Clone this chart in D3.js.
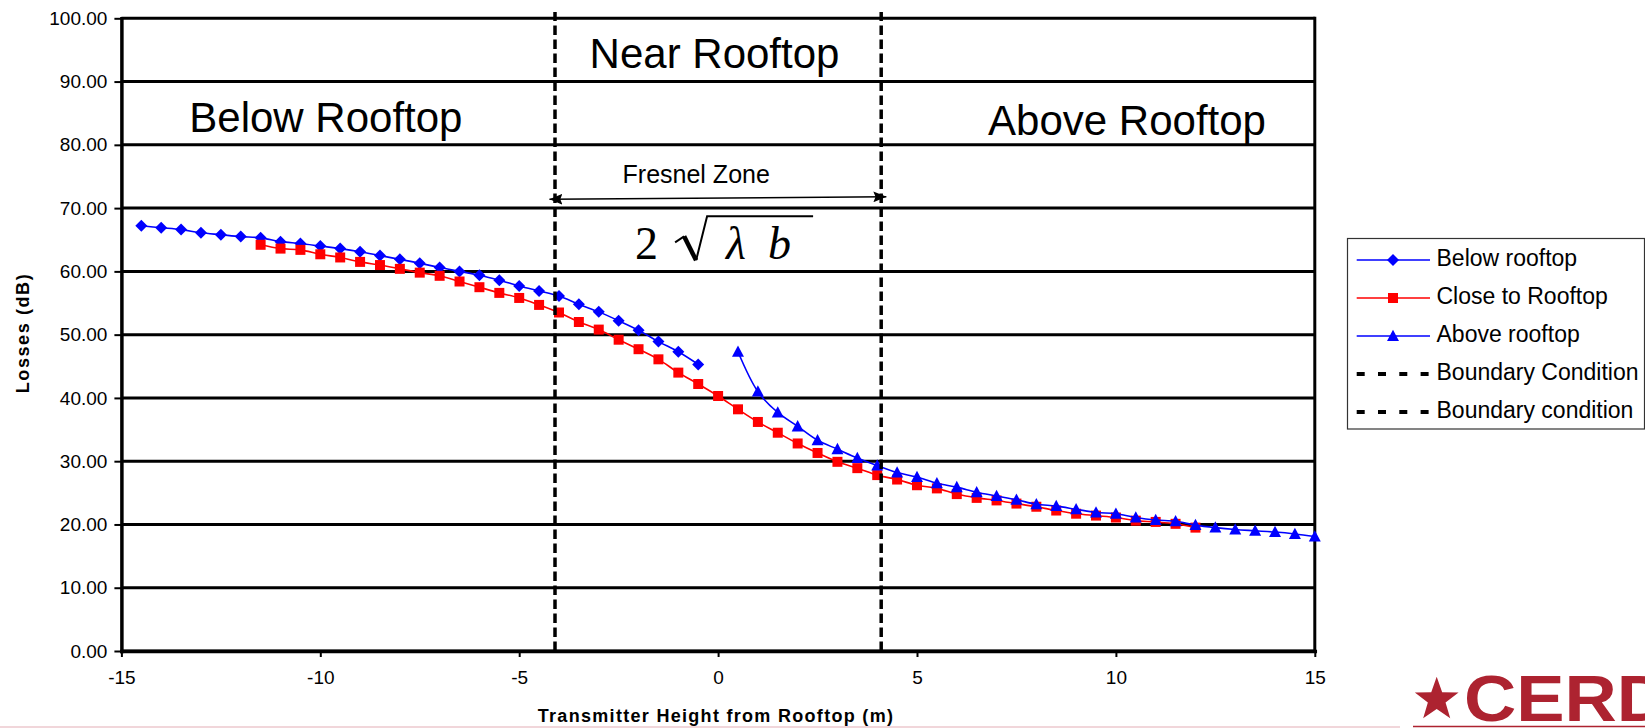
<!DOCTYPE html>
<html>
<head>
<meta charset="utf-8">
<script src="https://cdn.jsdelivr.net/npm/d3@7"></script>
<style>
  body { margin: 0; background: #fff; }
  svg { display: block; font-family: "Liberation Sans", Arial, sans-serif; }
</style>
</head>
<body>
<svg id="chart" width="1645" height="728"></svg>
<script>
// Transmitter height from rooftop (m) and path losses (dB) per series
const belowHeights = [-14.5, -14, -13.5, -13, -12.5, -12, -11.5, -11, -10.5, -10, -9.5, -9, -8.5, -8,
  -7.5, -7, -6.5, -6, -5.5, -5, -4.5, -4, -3.5, -3, -2.5, -2, -1.5, -1, -0.5];
const belowLoss = [67.2, 66.9, 66.6, 66.1, 65.8, 65.5, 65.3, 64.7, 64.4, 64.0, 63.6, 63.1, 62.5, 61.9,
  61.3, 60.6, 60.0, 59.4, 58.6, 57.7, 56.9, 56.1, 54.8, 53.6, 52.2, 50.7, 48.9, 47.3, 45.3];

const closeHeights = [-11.5, -11, -10.5, -10, -9.5, -9, -8.5, -8, -7.5, -7, -6.5, -6, -5.5, -5, -4.5, -4,
  -3.5, -3, -2.5, -2, -1.5, -1, -0.5, 0, 0.5, 1, 1.5, 2, 2.5, 3, 3.5, 4, 4.5, 5, 5.5, 6, 6.5, 7, 7.5, 8,
  8.5, 9, 9.5, 10, 10.5, 11, 11.5, 12];
const closeLoss = [64.2, 63.6, 63.4, 62.7, 62.2, 61.5, 61.0, 60.4, 59.8, 59.3, 58.4, 57.5, 56.6, 55.8, 54.7, 53.5,
  52.0, 50.8, 49.2, 47.7, 46.1, 44.0, 42.2, 40.3, 38.2, 36.2, 34.5, 32.8, 31.3, 29.9, 28.9, 27.8, 27.1, 26.2, 25.7, 24.8,
  24.2, 23.8, 23.3, 22.8, 22.2, 21.7, 21.4, 21.1, 20.6, 20.4, 20.1, 19.5];

const aboveHeights = [0.5, 1, 1.5, 2, 2.5, 3, 3.5, 4, 4.5, 5, 5.5, 6, 6.5, 7, 7.5, 8, 8.5, 9, 9.5, 10,
  10.5, 11, 11.5, 12, 12.5, 13, 13.5, 14, 14.5, 15];
const aboveLoss = [47.3, 41.0, 37.7, 35.5, 33.3, 31.9, 30.5, 29.3, 28.2, 27.5, 26.5, 25.9, 25.1, 24.5, 23.9, 23.2,
  22.9, 22.4, 21.9, 21.7, 21.1, 20.7, 20.5, 19.9, 19.5, 19.2, 19.0, 18.8, 18.5, 18.1];

// Fresnel zone boundaries (m) drawn as vertical dashed lines over the loss range
const boundaryHeights = [-4.1, 4.1];
const boundaryLoss = [0, 101];

const seriesNames = ["Below rooftop", "Close to Rooftop", "Above rooftop", "Boundary Condition", "Boundary condition"];
const xTicks = [-15, -10, -5, 0, 5, 10, 15];
const yTicks = [0, 10, 20, 30, 40, 50, 60, 70, 80, 90, 100];

const BLUE = "#0000ff", RED = "#ff0000";
const SERIF = "'Liberation Serif', 'Times New Roman', serif";
const svg = d3.select("#chart");

const x = d3.scaleLinear().domain([-15, 15]).range([121.4, 1314.8]);
const y = d3.scaleLinear().domain([0, 100]).range([651, 18.3]);

// horizontal gridlines
svg.append("g").selectAll("line").data(yTicks).join("line")
  .attr("x1", x(-15)).attr("x2", x(15))
  .attr("y1", d => y(d)).attr("y2", d => y(d))
  .attr("stroke", "#000").attr("stroke-width", 3);

// right frame edge
svg.append("line")
  .attr("x1", x(15)).attr("x2", x(15)).attr("y1", y(0) + 1.5).attr("y2", y(100) - 1.5)
  .attr("stroke", "#000").attr("stroke-width", 3);

// axes
const yAxis = svg.append("g").attr("transform", `translate(${x(-15)},0)`)
  .call(d3.axisLeft(y).tickValues(yTicks).tickFormat(d3.format(".2f"))
    .tickSize(7).tickSizeOuter(0).tickPadding(7));
const xAxis = svg.append("g").attr("transform", `translate(0,${y(0)})`)
  .call(d3.axisBottom(x).tickValues(xTicks).tickFormat(d => String(d))
    .tickSize(6).tickSizeOuter(0).tickPadding(14));
[yAxis, xAxis].forEach(g => {
  g.attr("font-family", null).attr("font-size", null);
  g.select(".domain").attr("stroke", "#000").attr("stroke-width", 3.5).attr("stroke-linecap", "square");
  g.selectAll(".tick line").attr("stroke", "#000").attr("stroke-width", 2);
  g.selectAll(".tick text").attr("font-size", 19).attr("fill", "#000");
});

// axis titles
svg.append("text")
  .attr("transform", `translate(29,333) rotate(-90)`)
  .attr("text-anchor", "middle").attr("font-size", 18).attr("font-weight", "bold")
  .attr("letter-spacing", "1.6px").text("Losses (dB)");
svg.append("text")
  .attr("x", 716).attr("y", 722)
  .attr("text-anchor", "middle").attr("font-size", 18).attr("font-weight", "bold")
  .attr("letter-spacing", "1.3px").text("Transmitter Height from Rooftop (m)");

// region annotations
const regionLabels = [
  { text: "Below Rooftop", h: -9.86, v: 82.1 },
  { text: "Near Rooftop", h: -0.09, v: 92.1 },
  { text: "Above Rooftop", h: 10.28, v: 81.55 }
];
svg.append("g").selectAll("text").data(regionLabels).join("text")
  .attr("x", d => x(d.h)).attr("y", d => y(d.v))
  .attr("text-anchor", "middle").attr("font-size", 42).attr("fill", "#000")
  .text(d => d.text);

// Fresnel zone annotation: label, double arrow and formula
svg.append("text")
  .attr("x", x(-0.55)).attr("y", y(73.92))
  .attr("text-anchor", "middle").attr("font-size", 25).text("Fresnel Zone");

const defs = svg.append("defs");
["arrowEnd", "arrowStart"].forEach((id, i) => {
  defs.append("marker").attr("id", id)
    .attr("viewBox", "0 0 12 10").attr("refX", 12).attr("refY", 5)
    .attr("markerWidth", 13).attr("markerHeight", 11).attr("markerUnits", "userSpaceOnUse")
    .attr("orient", i === 0 ? "auto" : "auto-start-reverse")
    .append("path").attr("d", "M0,0L12,5L0,10L2,5Z").attr("fill", "#000");
});
svg.append("line")
  .attr("x1", x(-4.24)).attr("y1", y(71.39))
  .attr("x2", x(4.23)).attr("y2", y(71.8))
  .attr("stroke", "#000").attr("stroke-width", 1.5)
  .attr("marker-start", "url(#arrowStart)").attr("marker-end", "url(#arrowEnd)");

const fx = x(0), fy = y(61.9);
const formula = svg.append("g").attr("transform", `translate(${fx},${fy})`);
formula.append("text").attr("x", -83).attr("y", 0)
  .style("font-family", SERIF).attr("font-size", 46).text("2");
formula.append("path")
  .attr("d", "M-43,-17L-34,-23")
  .attr("fill", "none").attr("stroke", "#000").attr("stroke-width", 2);
formula.append("path")
  .attr("d", "M-34,-23L-22,1")
  .attr("fill", "none").attr("stroke", "#000").attr("stroke-width", 4.5);
formula.append("path")
  .attr("d", "M-22,1L-11,-43H95")
  .attr("fill", "none").attr("stroke", "#000").attr("stroke-width", 2);
formula.append("text").attr("x", 8).attr("y", 0)
  .style("font-family", SERIF).attr("font-style", "italic")
  .attr("font-size", 46).text("λ");
formula.append("text").attr("x", 50).attr("y", 0)
  .style("font-family", SERIF).attr("font-style", "italic")
  .attr("font-size", 46).text("b");

// marker shapes
const DIAMOND = "M0,-6L6,0L0,6L-6,0Z";
const SQUARE = "M-5,-5H5V5H-5Z";
const TRIANGLE = "M0,-6.3L6,5L-6,5Z";

const line = d3.line().x(d => x(d[0])).y(d => y(d[1])).curve(d3.curveCatmullRom.alpha(0.5));

const series = [
  { hs: belowHeights, vs: belowLoss, color: BLUE, shape: DIAMOND },
  { hs: closeHeights, vs: closeLoss, color: RED, shape: SQUARE },
  { hs: aboveHeights, vs: aboveLoss, color: BLUE, shape: TRIANGLE }
];
series.forEach(s => {
  const pts = s.hs.map((h, i) => [h, s.vs[i]]);
  const g = svg.append("g");
  g.append("path").attr("d", line(pts)).attr("fill", "none")
    .attr("stroke", s.color).attr("stroke-width", 1.6);
  g.selectAll("path.m").data(pts).join("path").attr("class", "m")
    .attr("d", s.shape).attr("fill", s.color)
    .attr("transform", d => `translate(${x(d[0])},${y(d[1])})`);
});

// boundary lines
svg.append("g").selectAll("line").data(boundaryHeights).join("line")
  .attr("x1", d => x(d)).attr("x2", d => x(d))
  .attr("y1", y(boundaryLoss[0])).attr("y2", y(boundaryLoss[1]))
  .attr("stroke", "#000").attr("stroke-width", 3.5).attr("stroke-dasharray", "9.5,4.5");

// legend
const legend = svg.append("g");
legend.append("rect").attr("x", 1347.5).attr("y", 238.5).attr("width", 297).attr("height", 190.5)
  .attr("fill", "#fff").attr("stroke", "#333").attr("stroke-width", 1.2);
const legendStyle = [
  { color: BLUE, shape: DIAMOND, dash: null },
  { color: RED, shape: SQUARE, dash: null },
  { color: BLUE, shape: TRIANGLE, dash: null },
  { color: "#000", shape: null, dash: "8,13.3" },
  { color: "#000", shape: null, dash: "8,13.3" }
];
seriesNames.forEach((name, i) => {
  const ry = 260 + i * 38;
  const st = legendStyle[i];
  const row = legend.append("g");
  row.append("line").attr("x1", 1356.7).attr("x2", 1430).attr("y1", ry).attr("y2", ry)
    .attr("stroke", st.color).attr("stroke-width", st.dash ? 4 : 1.6)
    .attr("stroke-dasharray", st.dash);
  if (st.shape) {
    row.append("path").attr("d", st.shape).attr("fill", st.color)
      .attr("transform", `translate(1393,${ry})`);
  }
  row.append("text").attr("x", 1436.5).attr("y", ry + 5.5)
    .attr("font-size", 23).attr("fill", "#000").text(name);
});

// footer rule and logo
svg.append("line").attr("x1", 0).attr("x2", 1400).attr("y1", 727).attr("y2", 727)
  .attr("stroke", "#ecc9ce").attr("stroke-width", 1.5);
const LOGO = "#ad2330";
const star = d3.range(10).map(k => {
  const r = k % 2 === 0 ? 23 : 9.3;
  const a = -Math.PI / 2 + k * Math.PI / 5;
  return [1436.7 + r * Math.cos(a), 699.7 + r * Math.sin(a)];
});
svg.append("path").attr("d", "M" + star.join("L") + "Z").attr("fill", LOGO);
svg.append("text").attr("x", 1464).attr("y", 720.7)
  .attr("font-size", 64).attr("font-weight", "bold").attr("fill", LOGO)
  .attr("textLength", 205).attr("lengthAdjust", "spacingAndGlyphs").text("CERD");
svg.append("line").attr("x1", 1413).attr("x2", 1645).attr("y1", 726.5).attr("y2", 726.5)
  .attr("stroke", LOGO).attr("stroke-width", 1.5);
</script>
</body>
</html>
